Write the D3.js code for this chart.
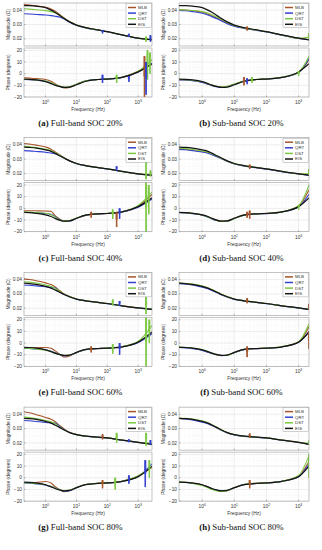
<!DOCTYPE html>
<html><head><meta charset="utf-8">
<script src="https://cdn.jsdelivr.net/npm/d3@7"></script>
<style>body{margin:0;background:#fff}svg{display:block}</style>
</head><body><svg id="c" width="322" height="550"></svg>
<script>
// ---------------- DATA ----------------
const SERIES = ["MLB", "QRT", "DST", "EIS"];
const FREQ_FULL = [0.2, 0.3, 0.5, 1, 1.5, 2, 3, 4, 6, 10, 20, 50, 100, 300, 1000, 2800];
const FREQ_SUB  = [0.19, 0.3, 0.5, 1, 1.5, 2, 3, 4, 6, 10, 20, 50, 100, 300, 1000, 2100];
const MAG_TICKS = [0.02, 0.03, 0.04];
const PH_TICKS = [-20, -10, 0, 10, 20];
const X_TICK_EXP = [0, 1, 2, 3];
const CAPTIONS = [["(a)", " Full-band SOC 20%"], ["(b)", " Sub-band SOC 20%"], ["(c)", " Full-band SOC 40%"], ["(d)", " Sub-band SOC 40%"],
                  ["(e)", " Full-band SOC 60%"], ["(f)", " Sub-band SOC 60%"], ["(g)", " Full-band SOC 80%"], ["(h)", " Sub-band SOC 80%"]];

// EIS reference (same for full-band and sub-band of one SOC)
const magEIS20 = [0.0432, 0.0431, 0.0428, 0.0418, 0.0400, 0.0385, 0.0360, 0.0342, 0.0318, 0.0296, 0.0278, 0.0262, 0.0250, 0.0228, 0.0205, 0.0192];
const phEIS20  = [-4.6, -4.8, -5.3, -6.8, -8.5, -9.8, -11.2, -11.8, -11.5, -9.5, -6.5, -5.0, -4.6, -3.2, 1.5, 8.5];
const magEIS40 = [0.0385, 0.0382, 0.0377, 0.0365, 0.0355, 0.0342, 0.0322, 0.0308, 0.0288, 0.0270, 0.0255, 0.0242, 0.0233, 0.0215, 0.0198, 0.0188];
const phEIS40  = [-3.5, -3.7, -4.2, -5.5, -7.0, -8.5, -10.3, -11.0, -10.8, -8.5, -5.8, -4.7, -4.4, -3.0, 1.5, 9.0];
const magEIS60 = [0.0375, 0.0372, 0.0366, 0.0352, 0.0340, 0.0328, 0.0310, 0.0296, 0.0280, 0.0264, 0.0252, 0.0241, 0.0233, 0.0217, 0.0202, 0.0192];
const phEIS60  = [-3.6, -3.8, -4.3, -5.8, -7.3, -8.6, -10.0, -10.6, -10.3, -8.0, -5.5, -4.7, -4.4, -3.2, 0.8, 9.5];
const magEIS80 = [0.0372, 0.0370, 0.0364, 0.0350, 0.0338, 0.0325, 0.0305, 0.0290, 0.0272, 0.0258, 0.0247, 0.0240, 0.0235, 0.0220, 0.0204, 0.0190];
const phEIS80  = [-3.7, -3.9, -4.5, -6.0, -7.8, -9.2, -10.6, -11.2, -10.8, -8.5, -5.8, -4.8, -4.4, -3.0, 1.0, 10.0];

// (a) Full-band SOC 20%
const magA_MLB = [0.0440, 0.0436, 0.0430, 0.0420, 0.0408, 0.0395, 0.0366, 0.0345, 0.0320, 0.0297, 0.0279, 0.0263, 0.0250, 0.0228, 0.0204, 0.0195];
const magA_QRT = [0.0375, 0.0373, 0.0370, 0.0366, 0.0362, 0.0358, 0.0350, 0.0338, 0.0316, 0.0294, 0.0276, 0.0261, 0.0249, 0.0227, 0.0204, 0.0196];
const magA_DST = [0.0410, 0.0407, 0.0403, 0.0397, 0.0390, 0.0382, 0.0362, 0.0343, 0.0319, 0.0297, 0.0278, 0.0262, 0.0249, 0.0228, 0.0205, 0.0196];
const phA_MLB  = [-3.5, -3.8, -4.2, -5.0, -6.5, -8.5, -11.0, -12.3, -11.8, -9.0, -6.0, -5.0, -4.5, -3.0, 2.0, 8.0];
const phA_QRT  = [-5.0, -5.2, -5.6, -6.5, -8.0, -9.5, -11.0, -11.8, -11.2, -9.2, -6.3, -5.0, -4.6, -3.2, 1.5, 9.0];
const phA_DST  = [-4.8, -5.0, -5.5, -6.3, -7.8, -9.3, -10.8, -11.5, -11.0, -9.0, -6.2, -5.0, -4.5, -3.0, 2.0, 12.0];
// (b) Sub-band SOC 20%
const magB_MLB = [0.0402, 0.0400, 0.0397, 0.0385, 0.0372, 0.0360, 0.0343, 0.0330, 0.0310, 0.0290, 0.0275, 0.0260, 0.0249, 0.0227, 0.0203, 0.0194];
const magB_QRT = [0.0398, 0.0396, 0.0390, 0.0378, 0.0366, 0.0355, 0.0338, 0.0325, 0.0306, 0.0288, 0.0273, 0.0259, 0.0248, 0.0226, 0.0203, 0.0194];
const magB_DST = [0.0402, 0.0401, 0.0398, 0.0390, 0.0380, 0.0368, 0.0350, 0.0336, 0.0314, 0.0293, 0.0276, 0.0261, 0.0249, 0.0227, 0.0204, 0.0210];
const phB_MLB  = [-5.2, -5.3, -5.8, -7.2, -8.8, -10.0, -11.2, -11.6, -11.0, -9.0, -6.5, -5.0, -4.5, -3.2, 1.0, 12.0];
const phB_QRT  = [-5.3, -5.4, -6.0, -7.5, -9.0, -10.3, -11.4, -11.8, -11.2, -9.2, -6.5, -5.0, -4.6, -3.3, 1.0, 13.0];
const phB_DST  = [-5.0, -5.2, -5.7, -7.0, -8.6, -9.8, -11.0, -11.4, -10.9, -8.9, -6.4, -4.9, -4.4, -3.0, 1.5, 15.0];
// (c) Full-band SOC 40%
const magC_MLB = [0.0410, 0.0405, 0.0398, 0.0385, 0.0370, 0.0352, 0.0328, 0.0310, 0.0289, 0.0270, 0.0255, 0.0242, 0.0232, 0.0214, 0.0197, 0.0190];
const magC_QRT = [0.0360, 0.0358, 0.0354, 0.0348, 0.0343, 0.0338, 0.0322, 0.0307, 0.0287, 0.0269, 0.0254, 0.0241, 0.0232, 0.0214, 0.0197, 0.0190];
const magC_DST = [0.0390, 0.0387, 0.0381, 0.0370, 0.0360, 0.0346, 0.0324, 0.0308, 0.0288, 0.0270, 0.0255, 0.0242, 0.0233, 0.0215, 0.0198, 0.0195];
const phC_MLB  = [-2.0, -2.0, -2.1, -2.3, -2.5, -6.0, -9.5, -10.8, -10.5, -8.5, -6.0, -4.8, -4.4, -3.0, 2.0, 12.0];
const phC_QRT  = [-3.5, -3.6, -3.9, -4.5, -5.0, -7.0, -10.0, -11.0, -10.8, -8.5, -5.8, -4.7, -4.4, -3.0, 1.0, 8.0];
const phC_DST  = [-3.0, -3.2, -3.6, -4.2, -5.5, -7.3, -10.0, -10.8, -10.5, -8.3, -5.7, -4.6, -4.3, -2.8, 2.5, 14.0];
// (d) Sub-band SOC 40%
const magD_MLB = [0.0370, 0.0368, 0.0362, 0.0352, 0.0345, 0.0335, 0.0318, 0.0305, 0.0286, 0.0268, 0.0254, 0.0241, 0.0232, 0.0214, 0.0197, 0.0188];
const magD_QRT = [0.0368, 0.0366, 0.0360, 0.0350, 0.0342, 0.0332, 0.0316, 0.0303, 0.0285, 0.0267, 0.0253, 0.0240, 0.0231, 0.0213, 0.0197, 0.0188];
const magD_DST = [0.0376, 0.0374, 0.0368, 0.0357, 0.0349, 0.0338, 0.0320, 0.0306, 0.0287, 0.0269, 0.0255, 0.0242, 0.0233, 0.0215, 0.0198, 0.0200];
const phD_MLB  = [-3.6, -3.8, -4.3, -5.6, -7.2, -8.6, -10.2, -10.8, -10.6, -8.3, -5.6, -4.6, -4.3, -3.0, 2.0, 16.0];
const phD_QRT  = [-3.8, -4.0, -4.6, -5.8, -7.5, -9.0, -10.6, -11.2, -10.9, -8.6, -5.9, -4.8, -4.5, -3.1, 1.2, 12.0];
const phD_DST  = [-3.5, -3.8, -4.4, -5.7, -7.4, -8.9, -10.5, -11.3, -11.0, -8.7, -5.8, -4.7, -4.4, -3.0, 2.2, 20.0];
// (e) Full-band SOC 60%
const magE_MLB = [0.0405, 0.0400, 0.0392, 0.0377, 0.0365, 0.0350, 0.0320, 0.0300, 0.0282, 0.0265, 0.0252, 0.0241, 0.0233, 0.0217, 0.0202, 0.0195];
const magE_QRT = [0.0362, 0.0360, 0.0356, 0.0350, 0.0346, 0.0342, 0.0310, 0.0296, 0.0279, 0.0263, 0.0251, 0.0240, 0.0232, 0.0216, 0.0201, 0.0192];
const magE_DST = [0.0385, 0.0382, 0.0376, 0.0362, 0.0352, 0.0340, 0.0314, 0.0298, 0.0281, 0.0265, 0.0252, 0.0241, 0.0233, 0.0217, 0.0202, 0.0196];
const phE_MLB  = [-4.0, -4.0, -4.0, -3.8, -4.5, -6.5, -10.0, -12.0, -11.0, -8.2, -5.5, -4.7, -4.4, -3.2, 1.0, 8.5];
const phE_QRT  = [-4.5, -4.7, -5.0, -5.8, -7.0, -8.2, -10.0, -11.0, -10.5, -8.2, -5.6, -4.7, -4.4, -3.2, 0.5, 8.0];
const phE_DST  = [-4.2, -4.5, -5.0, -6.2, -7.3, -8.6, -10.0, -10.6, -10.2, -8.0, -5.5, -4.6, -4.3, -3.0, 1.5, 15.0];
// (f) Sub-band SOC 60%
const magF_MLB = [0.0374, 0.0371, 0.0365, 0.0351, 0.0339, 0.0327, 0.0309, 0.0295, 0.0279, 0.0263, 0.0252, 0.0241, 0.0233, 0.0217, 0.0202, 0.0192];
const magF_QRT = [0.0372, 0.0369, 0.0362, 0.0347, 0.0336, 0.0324, 0.0307, 0.0293, 0.0278, 0.0262, 0.0251, 0.0240, 0.0232, 0.0216, 0.0201, 0.0191];
const magF_DST = [0.0376, 0.0373, 0.0368, 0.0355, 0.0343, 0.0330, 0.0311, 0.0297, 0.0281, 0.0265, 0.0253, 0.0242, 0.0233, 0.0217, 0.0202, 0.0195];
const phF_MLB  = [-3.5, -3.8, -4.4, -6.0, -7.6, -8.8, -10.2, -10.7, -10.4, -8.0, -5.4, -4.6, -4.3, -3.1, 1.0, 14.0];
const phF_QRT  = [-3.8, -4.1, -4.8, -6.3, -7.8, -9.0, -10.3, -10.8, -10.4, -8.2, -5.6, -4.8, -4.5, -3.3, 0.6, 10.0];
const phF_DST  = [-3.4, -3.7, -4.2, -5.6, -7.2, -8.5, -10.1, -10.7, -10.5, -8.1, -5.5, -4.6, -4.3, -3.0, 1.2, 16.5];
// (g) Full-band SOC 80%
const magG_MLB = [0.0418, 0.0410, 0.0397, 0.0378, 0.0365, 0.0350, 0.0318, 0.0298, 0.0275, 0.0259, 0.0248, 0.0240, 0.0235, 0.0220, 0.0204, 0.0195];
const magG_QRT = [0.0357, 0.0355, 0.0350, 0.0343, 0.0340, 0.0338, 0.0312, 0.0293, 0.0273, 0.0258, 0.0247, 0.0239, 0.0234, 0.0219, 0.0203, 0.0192];
const magG_DST = [0.0380, 0.0377, 0.0370, 0.0357, 0.0347, 0.0335, 0.0308, 0.0291, 0.0273, 0.0258, 0.0247, 0.0240, 0.0235, 0.0220, 0.0204, 0.0196];
const phG_MLB  = [-4.3, -4.2, -4.0, -3.2, -4.5, -7.5, -10.5, -12.0, -11.2, -8.5, -5.8, -4.8, -4.4, -3.0, 1.5, 9.0];
const phG_QRT  = [-4.5, -4.7, -5.2, -6.3, -7.5, -8.7, -10.5, -11.5, -11.0, -8.5, -5.8, -4.8, -4.5, -3.2, 1.0, 12.0];
const phG_DST  = [-4.2, -4.5, -5.0, -6.0, -7.5, -8.8, -10.4, -11.0, -10.6, -8.3, -5.7, -4.7, -4.4, -3.0, 1.8, 9.5];
// (h) Sub-band SOC 80%
const magH_MLB = [0.0371, 0.0369, 0.0363, 0.0349, 0.0337, 0.0324, 0.0304, 0.0289, 0.0272, 0.0257, 0.0247, 0.0240, 0.0235, 0.0220, 0.0204, 0.0192];
const magH_QRT = [0.0370, 0.0367, 0.0360, 0.0345, 0.0334, 0.0321, 0.0302, 0.0288, 0.0271, 0.0256, 0.0246, 0.0239, 0.0234, 0.0219, 0.0203, 0.0190];
const magH_DST = [0.0374, 0.0372, 0.0367, 0.0354, 0.0341, 0.0327, 0.0306, 0.0291, 0.0273, 0.0258, 0.0247, 0.0240, 0.0235, 0.0220, 0.0204, 0.0198];
const phH_MLB  = [-3.6, -3.9, -4.6, -6.2, -8.0, -9.5, -11.0, -11.5, -11.0, -8.4, -5.7, -4.7, -4.3, -3.0, 1.5, 14.0];
const phH_QRT  = [-3.8, -4.1, -4.8, -6.3, -8.0, -9.4, -10.8, -11.4, -10.9, -8.6, -5.9, -4.9, -4.5, -3.1, 0.8, 12.0];
const phH_DST  = [-3.5, -3.9, -4.8, -6.6, -8.5, -10.0, -11.4, -11.8, -11.2, -8.6, -5.8, -4.7, -4.4, -3.0, 2.0, 19.0];

// noisy bursts: [frequency Hz, series index (0 MLB,1 QRT,2 DST), "m"agnitude / "p"hase, low, high]
const burstsA = [[70,1,"m",0.0238,0.0262],[500,1,"m",0.0215,0.0235],[1800,2,"m",0.0180,0.0215],[2500,1,"m",0.0180,0.0225],
  [70,1,"p",-8,-1],[200,2,"p",-8,-1],[500,1,"p",-7,-2],[1600,0,"p",-20,15],[2000,2,"p",-5,20],[1800,1,"p",-18,10],[2400,2,"p",0,18]];
const burstsB = [[25,0,"m",0.0258,0.0285],[2100,2,"m",0.0200,0.0240],[20,0,"p",-10,-3],[35,2,"p",-8,-3],[25,1,"p",-9,-4],[1000,2,"p",-2,2]];
const burstsC = [[200,1,"m",0.0220,0.0250],[1800,2,"m",0.0160,0.0450],[2500,2,"m",0.0180,0.0220],[30,0,"p",-8,-3],[150,2,"p",-9,-1],
  [250,1,"p",-9,0],[200,0,"p",-16,-3],[1800,2,"p",-20,22],[2200,2,"p",-5,20]];
const burstsD = [[30,0,"m",0.0232,0.0262],[2100,2,"m",0.0190,0.0230],[30,0,"p",-9,-2],[25,0,"p",-8,-3],[1000,2,"p",-1,3]];
const burstsE = [[150,2,"m",0.0220,0.0260],[250,1,"m",0.0215,0.0250],[1800,2,"m",0.0160,0.0280],[30,0,"p",-8,-3],[150,2,"p",-9,-1],
  [250,1,"p",-10,0],[1800,2,"p",-20,22],[2300,2,"p",0,20]];
const burstsF = [[25,0,"m",0.0235,0.0270],[2100,0,"m",0.0190,0.0230],[25,0,"p",-12,-3],[2100,0,"p",-5,10]];
const burstsG = [[70,0,"m",0.0225,0.0260],[200,2,"m",0.0200,0.0270],[500,1,"m",0.0205,0.0225],[1800,2,"m",0.0180,0.0270],[2500,1,"m",0.0185,0.0220],
  [70,0,"p",-9,-2],[180,2,"p",-10,0],[500,1,"p",-5,2],[1700,1,"p",-8,15],[2300,2,"p",0,15]];
const burstsH = [[30,0,"m",0.0235,0.0265],[2100,2,"m",0.0190,0.0215],[30,0,"p",-9,-2],[2100,2,"p",0,20]];

// ---------------- ASSEMBLY ----------------
const panels = [
  {mag: [magA_MLB, magA_QRT, magA_DST, magEIS20], ph: [phA_MLB, phA_QRT, phA_DST, phEIS20], bursts: burstsA},
  {mag: [magB_MLB, magB_QRT, magB_DST, magEIS20], ph: [phB_MLB, phB_QRT, phB_DST, phEIS20], bursts: burstsB},
  {mag: [magC_MLB, magC_QRT, magC_DST, magEIS40], ph: [phC_MLB, phC_QRT, phC_DST, phEIS40], bursts: burstsC},
  {mag: [magD_MLB, magD_QRT, magD_DST, magEIS40], ph: [phD_MLB, phD_QRT, phD_DST, phEIS40], bursts: burstsD},
  {mag: [magE_MLB, magE_QRT, magE_DST, magEIS60], ph: [phE_MLB, phE_QRT, phE_DST, phEIS60], bursts: burstsE},
  {mag: [magF_MLB, magF_QRT, magF_DST, magEIS60], ph: [phF_MLB, phF_QRT, phF_DST, phEIS60], bursts: burstsF},
  {mag: [magG_MLB, magG_QRT, magG_DST, magEIS80], ph: [phG_MLB, phG_QRT, phG_DST, phEIS80], bursts: burstsG},
  {mag: [magH_MLB, magH_QRT, magH_DST, magEIS80], ph: [phH_MLB, phH_QRT, phH_DST, phEIS80], bursts: burstsH}
];

const COLORS = ["#a5552b", "#3340d0", "#7cc843", "#151515"];
const ROW_PITCH = 134.7;
const COLS = [
  {x0: 24, x1: 152, dom: [0.2, 2800], freq: FREQ_FULL, cx: 80.5},
  {x0: 179, x1: 309, dom: [0.19, 2100], freq: FREQ_SUB, cx: 241.5}
];
const SANS = "Liberation Sans, Arial, sans-serif";
const svg = d3.select("#c");

function drawAxesBox(g, x, y, yTicks, minorYStep, yFmt, label, id) {
  const [x0, x1] = x.range();
  const [yb, yt] = y.range();
  g.append("rect").attr("x", x0).attr("y", yt).attr("width", x1 - x0).attr("height", yb - yt).attr("fill", "#fff");
  const d = x.domain();
  for (let e = Math.floor(Math.log10(d[0])); e <= Math.ceil(Math.log10(d[1])); e++) {
    for (let k = 1; k <= 9; k++) {
      const f = k * Math.pow(10, e);
      if (f < d[0] || f > d[1]) continue;
      g.append("line").attr("x1", x(f)).attr("x2", x(f)).attr("y1", yt).attr("y2", yb)
        .attr("stroke", k === 1 ? "#dcdcdc" : "#ececec").attr("stroke-width", k === 1 ? 0.5 : 0.4)
        .attr("stroke-dasharray", k === 1 ? null : "0.8,0.8");
    }
  }
  const yd = y.domain();
  for (let v = Math.ceil(yd[0] / minorYStep) * minorYStep; v <= yd[1] + 1e-9; v += minorYStep) {
    const isMajor = yTicks.some(t => Math.abs(t - v) < minorYStep / 10);
    g.append("line").attr("x1", x0).attr("x2", x1).attr("y1", y(v)).attr("y2", y(v))
      .attr("stroke", isMajor ? "#dcdcdc" : "#ececec").attr("stroke-width", isMajor ? 0.5 : 0.4)
      .attr("stroke-dasharray", isMajor ? null : "0.8,0.8");
  }
  g.append("clipPath").attr("id", id).append("rect").attr("x", x0).attr("y", yt).attr("width", x1 - x0).attr("height", yb - yt);
  yTicks.forEach(t => {
    g.append("text").attr("x", x0 - 2).attr("y", y(t) + 1.6).attr("text-anchor", "end")
      .attr("font-family", SANS).attr("font-size", 4.8).attr("fill", "#333").text(yFmt(t));
    g.append("line").attr("x1", x0).attr("x2", x0 + 1.5).attr("y1", y(t)).attr("y2", y(t)).attr("stroke", "#555").attr("stroke-width", 0.4);
  });
  g.append("text").attr("transform", `translate(${x0 - 14.5},${(yt + yb) / 2}) rotate(-90)`).attr("text-anchor", "middle")
    .attr("font-family", SANS).attr("font-size", 4.9).attr("fill", "#333").text(label);
}

function drawSeries(g, x, y, freq, arrays, bursts, id) {
  const cg = g.append("g").attr("clip-path", `url(#${id})`);
  const line = d3.line().x(d => x(d[0])).y(d => y(d[1])).curve(d3.curveMonotoneX);
  arrays.forEach((arr, si) => {
    cg.append("path").attr("d", line(freq.map((f, i) => [f, arr[i]])))
      .attr("fill", "none").attr("stroke", COLORS[si]).attr("stroke-width", si === 3 ? 1.25 : 1.1);
  });
  bursts.forEach(b => {
    const f = b[0], lo = b[3], hi = b[4];
    const pts = [[f * 0.95, (lo + hi) / 2], [f * 0.97, hi], [f * 0.985, lo], [f, hi], [f * 1.015, lo], [f * 1.03, hi], [f * 1.05, (lo + hi) / 2]];
    cg.append("path").attr("d", d3.line().x(d => x(d[0])).y(d => y(d[1]))(pts))
      .attr("fill", "none").attr("stroke", COLORS[b[1]]).attr("stroke-width", 0.75);
  });
}

function drawBorder(g, x, y) {
  const [x0, x1] = x.range();
  const [yb, yt] = y.range();
  g.append("rect").attr("x", x0).attr("y", yt).attr("width", x1 - x0).attr("height", yb - yt)
    .attr("fill", "none").attr("stroke", "#8a8a8a").attr("stroke-width", 0.5);
  X_TICK_EXP.forEach(e => {
    const f = Math.pow(10, e);
    g.append("line").attr("x1", x(f)).attr("x2", x(f)).attr("y1", yb).attr("y2", yb - 1.5).attr("stroke", "#555").attr("stroke-width", 0.4);
  });
}

panels.forEach((p, i) => {
  const col = COLS[i % 2];
  const top = Math.floor(i / 2) * ROW_PITCH;
  const g = svg.append("g").attr("transform", `translate(0,${top})`);
  const x = d3.scaleLog().domain(col.dom).range([col.x0, col.x1]);
  const ym = d3.scaleLinear().domain([0.015, 0.045]).range([46, 3]);
  const yp = d3.scaleLinear().domain([-20, 22]).range([97, 48]);

  drawAxesBox(g, x, ym, MAG_TICKS, 0.005, d3.format(".2f"), "Magnitude (\u03A9)", "cm" + i);
  drawSeries(g, x, ym, col.freq, p.mag, p.bursts.filter(b => b[2] === "m"), "cm" + i);
  drawBorder(g, x, ym);

  drawAxesBox(g, x, yp, PH_TICKS, 5, d3.format("d"), "Phase (degrees)", "cp" + i);
  drawSeries(g, x, yp, col.freq, p.ph, p.bursts.filter(b => b[2] === "p"), "cp" + i);
  drawBorder(g, x, yp);

  const lx = col.x1 - 26, ly = 3.5;
  g.append("rect").attr("x", lx).attr("y", ly).attr("width", 25.5).attr("height", 24)
    .attr("fill", "#fff").attr("stroke", "#8a8a8a").attr("stroke-width", 0.4);
  SERIES.forEach((s, si) => {
    const yy = ly + 4 + si * 5.6;
    g.append("line").attr("x1", lx + 2).attr("x2", lx + 10).attr("y1", yy).attr("y2", yy)
      .attr("stroke", COLORS[si]).attr("stroke-width", 1.5);
    g.append("text").attr("x", lx + 12).attr("y", yy + 1.5).attr("font-family", SANS).attr("font-size", 4.4)
      .attr("fill", "#333").text(s);
  });

  X_TICK_EXP.forEach(e => {
    const t = g.append("text").attr("x", x(Math.pow(10, e))).attr("y", 104).attr("text-anchor", "middle")
      .attr("font-family", SANS).attr("font-size", 4.8).attr("fill", "#333");
    t.append("tspan").text("10");
    t.append("tspan").attr("dy", -2).attr("font-size", 3.4).text(String(e));
  });
  g.append("text").attr("x", (col.x0 + col.x1) / 2).attr("y", 111).attr("text-anchor", "middle")
    .attr("font-family", SANS).attr("font-size", 4.9).attr("fill", "#333").text("Frequency (Hz)");

  const c = g.append("text").attr("x", col.cx).attr("y", 126).attr("text-anchor", "middle")
    .attr("font-family", "Liberation Serif, serif").attr("font-size", 8.8).attr("fill", "#111");
  c.append("tspan").attr("font-weight", "bold").text(CAPTIONS[i][0]);
  c.append("tspan").text(CAPTIONS[i][1]);
});
</script>
</body></html>
